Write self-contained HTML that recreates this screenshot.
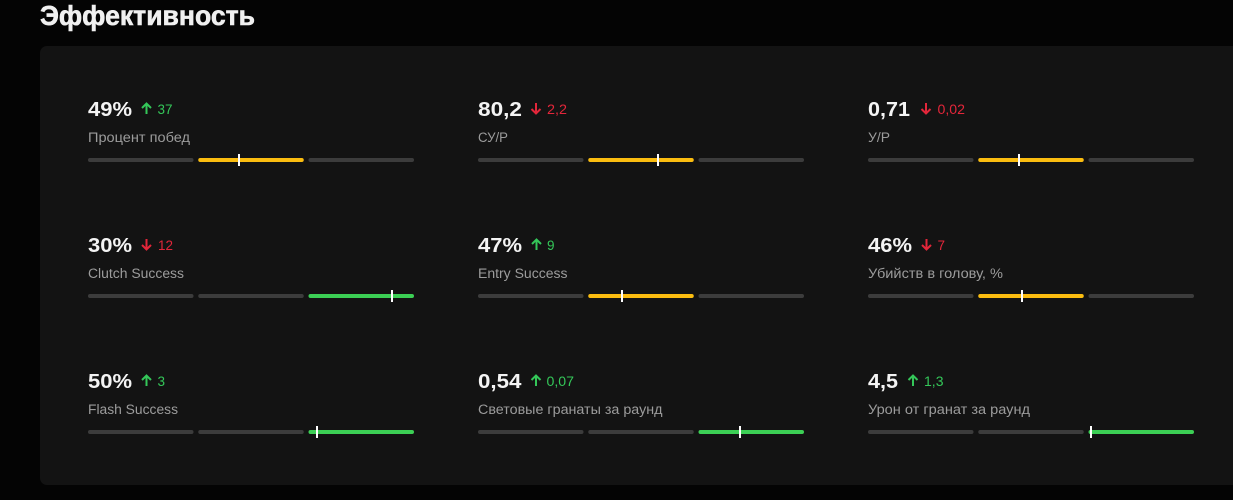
<!DOCTYPE html>
<html><head><meta charset="utf-8"><style>
html,body{margin:0;padding:0;background:#040404;width:1233px;height:500px;overflow:hidden}
svg{display:block}
text{font-family:"Liberation Sans","DejaVu Sans",sans-serif}
.v{font-size:20px;font-weight:bold;fill:#f4f4f4}
.l{font-size:13.5px;fill:#9c9c9c}
.up{fill:#34c759}
.dn{fill:#e3263a}
.d{font-size:13.5px}
</style></head><body>
<svg width="1233" height="500" viewBox="0 0 1233 500" xmlns="http://www.w3.org/2000/svg">
<rect x="0" y="0" width="1233" height="500" fill="#040404"/>
<text x="40" y="25" font-size="28" font-weight="bold" fill="#f0f0f0" stroke="#f0f0f0" stroke-width="0.6" textLength="215" lengthAdjust="spacingAndGlyphs">Эффективность</text>
<rect x="40" y="46" width="1220" height="439" rx="7" fill="#131313"/>

<g fill="#3c3c3c">
<rect x="88" y="158" width="105.5" height="4" rx="2"/><rect x="198.25" y="158" width="105.5" height="4" rx="2" fill="#fbbd10"/><rect x="308.5" y="158" width="105.5" height="4" rx="2"/>
<rect x="478" y="158" width="105.5" height="4" rx="2"/><rect x="588.25" y="158" width="105.5" height="4" rx="2" fill="#fbbd10"/><rect x="698.5" y="158" width="105.5" height="4" rx="2"/>
<rect x="868" y="158" width="105.5" height="4" rx="2"/><rect x="978.25" y="158" width="105.5" height="4" rx="2" fill="#fbbd10"/><rect x="1088.5" y="158" width="105.5" height="4" rx="2"/>
<rect x="88" y="294" width="105.5" height="4" rx="2"/><rect x="198.25" y="294" width="105.5" height="4" rx="2"/><rect x="308.5" y="294" width="105.5" height="4" rx="2" fill="#3ccf55"/>
<rect x="478" y="294" width="105.5" height="4" rx="2"/><rect x="588.25" y="294" width="105.5" height="4" rx="2" fill="#fbbd10"/><rect x="698.5" y="294" width="105.5" height="4" rx="2"/>
<rect x="868" y="294" width="105.5" height="4" rx="2"/><rect x="978.25" y="294" width="105.5" height="4" rx="2" fill="#fbbd10"/><rect x="1088.5" y="294" width="105.5" height="4" rx="2"/>
<rect x="88" y="430" width="105.5" height="4" rx="2"/><rect x="198.25" y="430" width="105.5" height="4" rx="2"/><rect x="308.5" y="430" width="105.5" height="4" rx="2" fill="#3ccf55"/>
<rect x="478" y="430" width="105.5" height="4" rx="2"/><rect x="588.25" y="430" width="105.5" height="4" rx="2"/><rect x="698.5" y="430" width="105.5" height="4" rx="2" fill="#3ccf55"/>
<rect x="868" y="430" width="105.5" height="4" rx="2"/><rect x="978.25" y="430" width="105.5" height="4" rx="2"/><rect x="1088.5" y="430" width="105.5" height="4" rx="2" fill="#3ccf55"/>
</g>

<g fill="#ffffff">
<rect x="238" y="154" width="2" height="12"/>
<rect x="657" y="154" width="2" height="12"/>
<rect x="1018" y="154" width="2" height="12"/>
<rect x="391" y="290" width="2" height="12"/>
<rect x="621" y="290" width="2" height="12"/>
<rect x="1021" y="290" width="2" height="12"/>
<rect x="316" y="426" width="2" height="12"/>
<rect x="739" y="426" width="2" height="12"/>
<rect x="1090" y="426" width="2" height="12"/>
</g>

<text class="v" x="88" y="116" textLength="44" lengthAdjust="spacingAndGlyphs">49%</text>
<text class="v" x="478" y="116" textLength="44" lengthAdjust="spacingAndGlyphs">80,2</text>
<text class="v" x="868" y="116" textLength="42" lengthAdjust="spacingAndGlyphs">0,71</text>
<text class="v" x="88" y="252" textLength="44" lengthAdjust="spacingAndGlyphs">30%</text>
<text class="v" x="478" y="252" textLength="44" lengthAdjust="spacingAndGlyphs">47%</text>
<text class="v" x="868" y="252" textLength="44" lengthAdjust="spacingAndGlyphs">46%</text>
<text class="v" x="88" y="388" textLength="44" lengthAdjust="spacingAndGlyphs">50%</text>
<text class="v" x="478" y="388" textLength="43.5" lengthAdjust="spacingAndGlyphs">0,54</text>
<text class="v" x="868" y="388" textLength="30" lengthAdjust="spacingAndGlyphs">4,5</text>

<g fill="none" stroke-width="2" stroke-linecap="butt">
<path d="M146.5 114 V103.5 M142 108 L146.5 103.5 L151 108" stroke="#34c759"/>
<path d="M536 103 V113.5 M531.5 109 L536 113.5 L540.5 109" stroke="#e3263a"/>
<path d="M926 103 V113.5 M921.5 109 L926 113.5 L930.5 109" stroke="#e3263a"/>
<path d="M146.5 239 V249.5 M142 245 L146.5 249.5 L151 245" stroke="#e3263a"/>
<path d="M536.5 250 V239.5 M532 244 L536.5 239.5 L541 244" stroke="#34c759"/>
<path d="M926.5 239 V249.5 M922 245 L926.5 249.5 L931 245" stroke="#e3263a"/>
<path d="M146.5 386 V375.5 M142 380 L146.5 375.5 L151 380" stroke="#34c759"/>
<path d="M536 386 V375.5 M531.5 380 L536 375.5 L540.5 380" stroke="#34c759"/>
<path d="M913 386 V375.5 M908.5 380 L913 375.5 L917.5 380" stroke="#34c759"/>
</g>

<text class="d up" x="157.5" y="114" textLength="15" lengthAdjust="spacingAndGlyphs">37</text>
<text class="d dn" x="547" y="114" textLength="20" lengthAdjust="spacingAndGlyphs">2,2</text>
<text class="d dn" x="937.5" y="114" textLength="27.5" lengthAdjust="spacingAndGlyphs">0,02</text>
<text class="d dn" x="158" y="250" textLength="15" lengthAdjust="spacingAndGlyphs">12</text>
<text class="d up" x="547" y="250">9</text>
<text class="d dn" x="937.5" y="250">7</text>
<text class="d up" x="157.5" y="386">3</text>
<text class="d up" x="546.5" y="386" textLength="27.5" lengthAdjust="spacingAndGlyphs">0,07</text>
<text class="d up" x="924" y="386" textLength="19.5" lengthAdjust="spacingAndGlyphs">1,3</text>

<text class="l" x="88" y="142" textLength="102" lengthAdjust="spacingAndGlyphs">Процент побед</text>
<text class="l" x="478" y="142" textLength="30" lengthAdjust="spacingAndGlyphs">СУ/Р</text>
<text class="l" x="868" y="142" textLength="22" lengthAdjust="spacingAndGlyphs">У/Р</text>
<text class="l" x="88" y="278" textLength="96" lengthAdjust="spacingAndGlyphs">Clutch Success</text>
<text class="l" x="478" y="278" textLength="89.5" lengthAdjust="spacingAndGlyphs">Entry Success</text>
<text class="l" x="868" y="278" textLength="135" lengthAdjust="spacingAndGlyphs">Убийств в голову, %</text>
<text class="l" x="88" y="414" textLength="90" lengthAdjust="spacingAndGlyphs">Flash Success</text>
<text class="l" x="478" y="414" textLength="184.5" lengthAdjust="spacingAndGlyphs">Световые гранаты за раунд</text>
<text class="l" x="868" y="414" textLength="162" lengthAdjust="spacingAndGlyphs">Урон от гранат за раунд</text>
</svg>
</body></html>
